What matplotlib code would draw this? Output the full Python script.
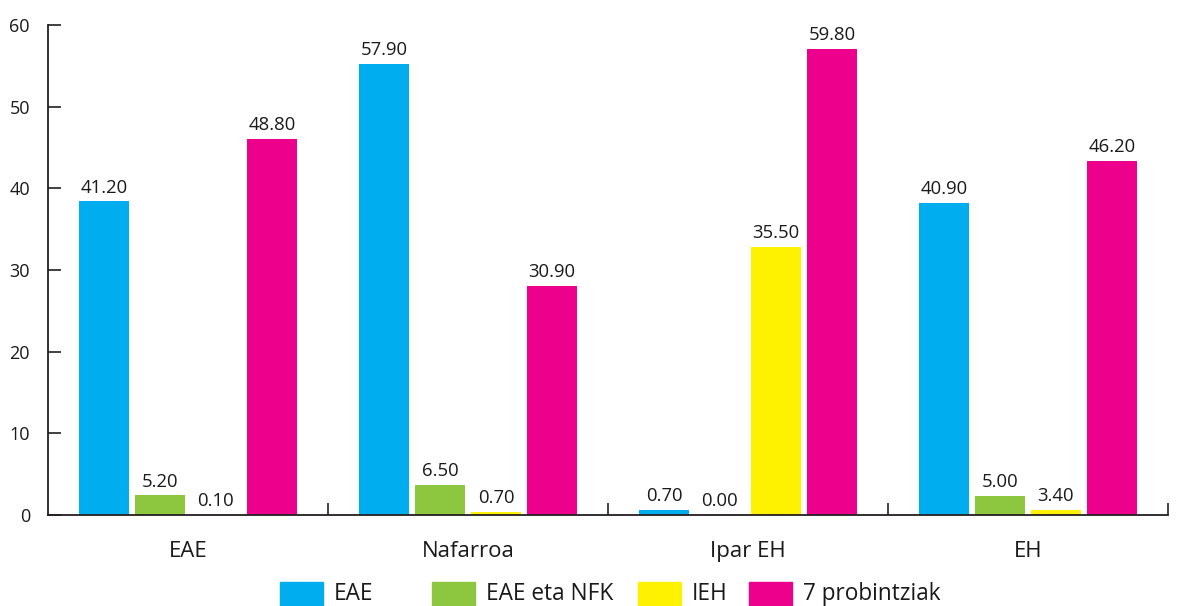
import matplotlib.pyplot as plt
import numpy as np
from matplotlib.patches import Rectangle

plt.rcParams['font.family'] = ['Open Sans', 'DejaVu Sans']

categories = ['EAE', 'Nafarroa', 'Ipar EH', 'EH']
series = ['EAE', 'EAE eta NFK', 'IEH', '7 probintziak']
colors = ['#00AEEF', '#8DC63F', '#FFF200', '#EC008C']

# bar heights as drawn in the picture
bar_eae = [38.4, 55.2, 0.6, 38.2]
bar_nfk = [2.4, 3.7, 0.0, 2.3]
bar_ieh = [0.0, 0.4, 32.8, 0.65]
bar_7p = [46.1, 28.1, 57.1, 43.4]

# labels written on top of the bars
lab_eae = [41.20, 57.90, 0.70, 40.90]
lab_nfk = [5.20, 6.50, 0.00, 5.00]
lab_ieh = [0.10, 0.70, 35.50, 3.40]
lab_7p = [48.80, 30.90, 59.80, 46.20]

bars = [bar_eae, bar_nfk, bar_ieh, bar_7p]
labels = [lab_eae, lab_nfk, lab_ieh, lab_7p]

fig = plt.figure(figsize=(11.84, 6.06), dpi=100)
ax = fig.add_axes([48 / 1184, 91 / 606, 1120 / 1184, 490 / 606])

x = np.arange(len(categories))
step = 0.2
w = 0.182
for i in range(4):
    pos = x + (i - 1.5) * step
    ax.bar(pos, bars[i], width=w, color=colors[i])
    for px, h, v in zip(pos, bars[i], labels[i]):
        ax.annotate(f'{v:.2f}', (px, h), xytext=(0, 3.5), textcoords='offset points',
                    ha='center', va='bottom', fontsize=13.3, color='#1a1a1a')

ax.set_xlim(-0.5, 3.5)
ax.set_ylim(0, 60)
ax.set_yticks(range(0, 61, 10))
ax.set_xticks(x)
ax.set_xticklabels(categories, fontsize=16)
ax.set_xticks([0.5, 1.5, 2.5, 3.5], minor=True)

for s in ['top', 'right']:
    ax.spines[s].set_visible(False)
for s in ['left', 'bottom']:
    ax.spines[s].set_color('#231f20')
    ax.spines[s].set_linewidth(1.3)

ax.tick_params(axis='y', direction='in', length=9, width=1.2, color='#231f20',
               pad=13, labelsize=13, labelcolor='#1a1a1a')
ax.tick_params(axis='x', which='major', length=0, pad=19, labelcolor='#1a1a1a')
ax.tick_params(axis='x', which='minor', direction='in', length=9, width=1.2,
               color='#231f20')

# legend along the bottom
leg_x = [280, 432, 638, 749]
for lx, name, c in zip(leg_x, series, colors):
    fig.patches.append(Rectangle((lx / 1184, 0), 43 / 1184, 24 / 606,
                                 transform=fig.transFigure, color=c))
    fig.text((lx + 54) / 1184, 12 / 606, name, fontsize=16.3, va='center',
             ha='left', color='#1a1a1a')

plt.savefig('out.png', dpi=100)
